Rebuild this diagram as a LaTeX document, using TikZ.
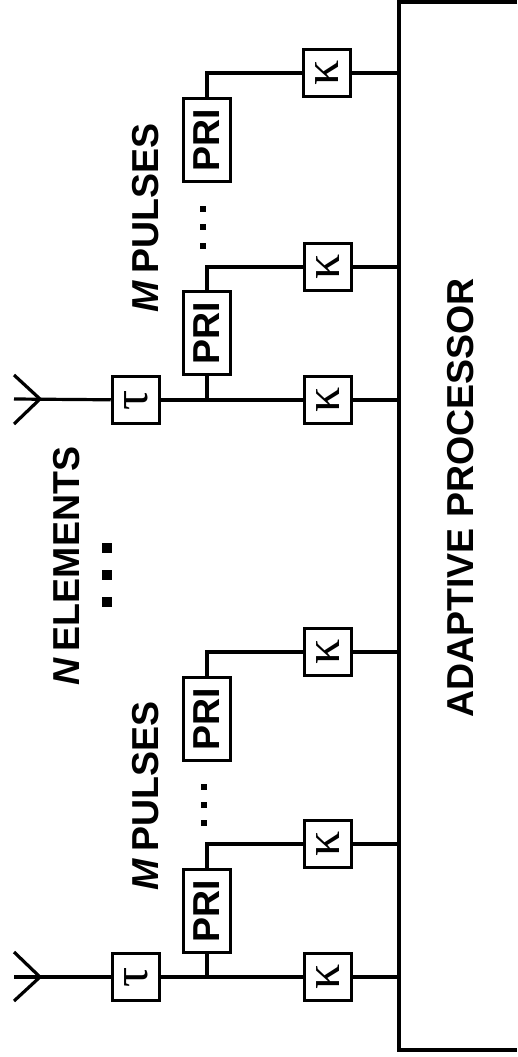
\documentclass[tikz,border=0pt]{standalone}
\usepackage{amsmath,amssymb}
\usepackage{fontspec}
\usepackage{tikz}
\setmainfont{Liberation Sans}
\newfontfamily\grkfont{Liberation Serif}
\tikzset{
    blockbox/.style={draw,line width=3.5pt,rotate=90,inner sep=0pt,minimum width=47pt,minimum height=47pt,font=\fontsize{50}{50}\selectfont\grkfont},
    pribox/.style={blockbox,minimum width=83pt,font=\fontsize{37.5}{38}\selectfont\bfseries},
    lbl/.style={rotate=90,inner sep=0pt,font=\fontsize{37.5}{38}\selectfont\bfseries},
    wire/.style={line width=3.2pt},
    dotbig/.style={fill,inner sep=0pt,minimum size=10pt},
    dotsmall/.style={fill,inner sep=0pt,minimum size=6.5pt}
}

\begin{document}
\begin{tikzpicture}[x=1pt,y=-1pt]
    \useasboundingbox (0,0) rectangle (517,1057);
    % adaptive processor
    \coordinate (pa) at (517,2);
    \coordinate (pb) at (399,2);
    \coordinate (pc) at (399,1050);
    \coordinate (pd) at (517,1050);
    \draw[wire,line width=3.5pt] (pa) -- (pb) -- (pc) -- (pd);
    \node[lbl] (proc) at (461,498) {ADAPTIVE PROCESSOR};
    % first element (top of page)
    \coordinate (antA) at (40,399);
    \coordinate (antAs) at (14,399);
    \coordinate (antAu) at (14,375);
    \coordinate (antAd) at (14,424);
    \node[blockbox] (tauA) at (136,400) {τ};
    \node[pribox] (priAa) at (207,333) {PRI};
    \node[pribox] (priAb) at (207,140) {PRI};
    \node[blockbox] (kapAa) at (328,400) {κ};
    \node[blockbox] (kapAb) at (328,267) {κ};
    \node[blockbox] (kapAc) at (327,73) {κ};
    \draw[wire] (antAu) -- (antA) -- (antAd);
    \draw[wire] (antAs) -- (tauA);
    \draw[wire] (tauA) -- (kapAa);
    \draw[wire] (priAa) -- (priAa |- kapAa);
    \draw[wire] (priAa) |- (kapAb);
    \draw[wire] (priAb) |- (kapAc);
    \draw[wire] (kapAa) -- (kapAa -| pb);
    \draw[wire] (kapAb) -- (kapAb -| pb);
    \draw[wire] (kapAc) -- (kapAc -| pb);
    \node[dotsmall] (dotAa) at (203,209) {};
    \node[dotsmall] (dotAb) at (203,227) {};
    \node[dotsmall] (dotAc) at (203,246) {};
    \node[lbl] (pulA) at (146,218) {\textit{M}\,PULSES};
    % element label
    \node[lbl] (elem) at (67,566) {\textit{N}\,ELEMENTS};
    \node[dotbig] (dotNa) at (107,548) {};
    \node[dotbig] (dotNb) at (107,575) {};
    \node[dotbig] (dotNc) at (107,602) {};
    % second element (bottom of page)
    \coordinate (antB) at (40,977);
    \coordinate (antBs) at (14,977);
    \coordinate (antBu) at (14,952);
    \coordinate (antBd) at (14,1001);
    \node[blockbox] (tauB) at (136,977) {τ};
    \node[pribox] (priBa) at (207,911) {PRI};
    \node[pribox] (priBb) at (207,719) {PRI};
    \node[blockbox] (kapBa) at (328,977) {κ};
    \node[blockbox] (kapBb) at (328,844) {κ};
    \node[blockbox] (kapBc) at (328,652) {κ};
    \draw[wire] (antBu) -- (antB) -- (antBd);
    \draw[wire] (antBs) -- (tauB);
    \draw[wire] (tauB) -- (kapBa);
    \draw[wire] (priBa) -- (priBa |- kapBa);
    \draw[wire] (priBa) |- (kapBb);
    \draw[wire] (priBb) |- (kapBc);
    \draw[wire] (kapBa) -- (kapBa -| pb);
    \draw[wire] (kapBb) -- (kapBb -| pb);
    \draw[wire] (kapBc) -- (kapBc -| pb);
    \node[dotsmall] (dotBa) at (204,787) {};
    \node[dotsmall] (dotBb) at (204,805) {};
    \node[dotsmall] (dotBc) at (204,823) {};
    \node[lbl] (pulB) at (146,796) {\textit{M}\,PULSES};
\end{tikzpicture}
\end{document}
